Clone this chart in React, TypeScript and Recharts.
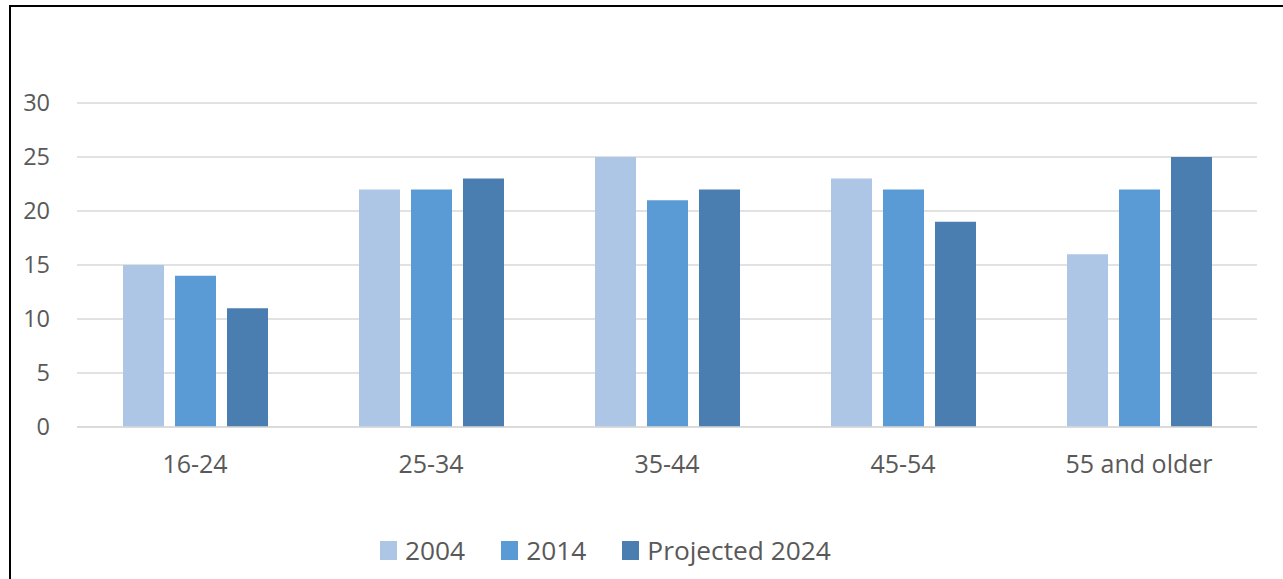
import React from "react";
import { BarChart, Bar, XAxis, YAxis, CartesianGrid, Legend } from "recharts";

const AGE_GROUPS = ["16-24", "25-34", "35-44", "45-54", "55 and older"];
const SHARE_2004 = [15, 22, 25, 23, 16];
const SHARE_2014 = [14, 22, 21, 22, 22];
const SHARE_2024 = [11, 23, 22, 19, 25];
const Y_TICKS = [0, 5, 10, 15, 20, 25, 30];

const SERIES = [
  { key: "y2004", name: "2004", color: "#aec6e6" },
  { key: "y2014", name: "2014", color: "#5b9bd5" },
  { key: "y2024", name: "Projected 2024", color: "#4a7eb0" },
];

const TEXT = "#595959";
const GRID = "#d9d9d9";
const FONT = "'Open Sans', sans-serif";

const chartData = AGE_GROUPS.map((group, i) => ({
  group,
  y2004: SHARE_2004[i],
  y2014: SHARE_2014[i],
  y2024: SHARE_2024[i],
}));

function LegendRow() {
  return (
    <div
      style={{
        height: 58,
        display: "flex",
        alignItems: "center",
        justifyContent: "flex-start",
        paddingLeft: 380,
        fontFamily: FONT,
        fontSize: 26.3,
        color: TEXT,
      }}
    >
      {SERIES.map((s) => (
        <div key={s.key} style={{ display: "flex", alignItems: "center", marginRight: 36 }}>
          <span style={{ width: 17, height: 19, background: s.color, marginRight: 8, display: "inline-block" }} />
          <span>{s.name}</span>
        </div>
      ))}
    </div>
  );
}

export default function App() {
  return (
    <div style={{ position: "absolute", left: 0, top: 0, width: 1283, height: 579, background: "#fff" }}>
      <div
        style={{
          position: "absolute",
          left: 9,
          top: 5,
          right: 0,
          bottom: 0,
          borderTop: "2px solid #000",
          borderLeft: "2px solid #000",
        }}
      />
      <BarChart
        width={1283}
        height={579}
        data={chartData}
        margin={{ top: 103, right: 26, left: 0, bottom: 0 }}
        barSize={41}
        barGap={11}
        style={{ position: "absolute", left: 0, top: 0 }}
      >
        <CartesianGrid vertical={false} stroke={GRID} strokeWidth={1.5} />
        <YAxis
          width={77}
          domain={[0, 30]}
          ticks={Y_TICKS}
          axisLine={false}
          tickLine={false}
          tickSize={0}
          tickMargin={27}
          tick={{ fill: TEXT, fontSize: 23.5, fontFamily: FONT }}
        />
        <XAxis
          dataKey="group"
          height={94}
          axisLine={{ stroke: GRID, strokeWidth: 1.5 }}
          tickLine={false}
          tickSize={0}
          tickMargin={28}
          tick={{ fill: TEXT, fontSize: 25, fontFamily: FONT }}
        />
        <Legend verticalAlign="bottom" content={() => <LegendRow />} />
        {SERIES.map((s) => (
          <Bar key={s.key} dataKey={s.key} name={s.name} fill={s.color} isAnimationActive={false} />
        ))}
      </BarChart>
    </div>
  );
}
